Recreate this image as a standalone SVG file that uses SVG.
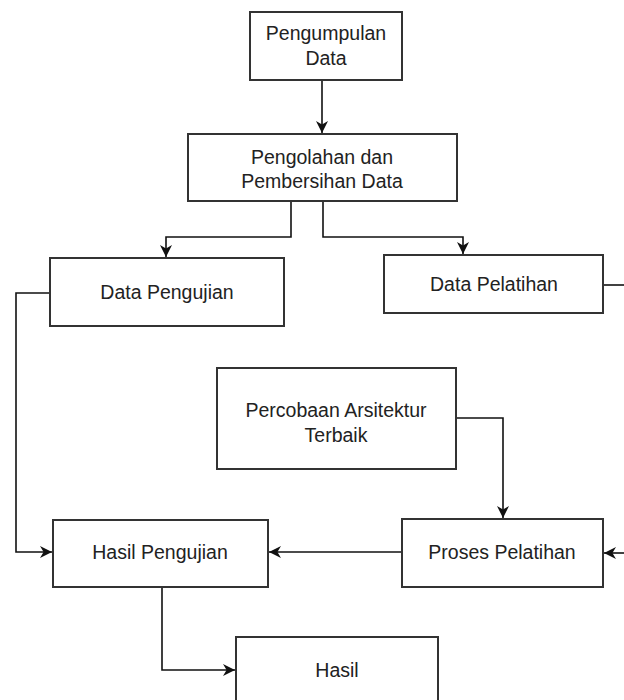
<svg xmlns="http://www.w3.org/2000/svg" width="624" height="700" viewBox="0 0 624 700">
<defs>
<marker id="arr" viewBox="0 0 10 10" refX="10" refY="5" markerWidth="12" markerHeight="12" markerUnits="userSpaceOnUse" orient="auto">
<path d="M0,0 L10,5 L0,10 L3,5 Z" fill="#111"/>
</marker>
</defs>
<style>
.box{fill:#fff;stroke:#333;stroke-width:2}
.t{font-family:"Liberation Sans",Arial,sans-serif;font-size:19.5px;fill:#222;text-anchor:middle}
.c{fill:none;stroke:#111;stroke-width:1.6}
</style>
<rect width="624" height="700" fill="#fff"/>
<g id="connectors">
<path class="c" d="M322,80 V133" marker-end="url(#arr)"/>
<path class="c" d="M291,201 V237 H166 V257" marker-end="url(#arr)"/>
<path class="c" d="M323,201 V237 H463 V254" marker-end="url(#arr)"/>
<path class="c" d="M603,285 H624"/>
<path class="c" d="M50,293 H16 V552 H52" marker-end="url(#arr)"/>
<path class="c" d="M456,418 H503 V518" marker-end="url(#arr)"/>
<path class="c" d="M402,552 H269" marker-end="url(#arr)"/>
<path class="c" d="M624,553 H604" marker-end="url(#arr)"/>
<path class="c" d="M162,587 V670 H235" marker-end="url(#arr)"/>
</g>
<g id="pengumpulan">
<rect class="box" x="250" y="12" width="152" height="68"/>
<text class="t" x="326" y="40">Pengumpulan</text>
<text class="t" x="326" y="65">Data</text>
</g>
<g id="pengolahan">
<rect class="box" x="188" y="134" width="269" height="67"/>
<text class="t" x="322" y="164">Pengolahan dan</text>
<text class="t" x="322" y="188">Pembersihan Data</text>
</g>
<g id="data-pengujian">
<rect class="box" x="50" y="258" width="234" height="68"/>
<text class="t" x="167" y="299">Data Pengujian</text>
</g>
<g id="data-pelatihan">
<rect class="box" x="384" y="255" width="219" height="58"/>
<text class="t" x="494" y="291">Data Pelatihan</text>
</g>
<g id="percobaan">
<rect class="box" x="217" y="368" width="239" height="101"/>
<text class="t" x="336" y="417">Percobaan Arsitektur</text>
<text class="t" x="336" y="442">Terbaik</text>
</g>
<g id="proses-pelatihan">
<rect class="box" x="402" y="519" width="201" height="68"/>
<text class="t" x="502" y="559">Proses Pelatihan</text>
</g>
<g id="hasil-pengujian">
<rect class="box" x="53" y="520" width="215" height="67"/>
<text class="t" x="160" y="559">Hasil Pengujian</text>
</g>
<g id="hasil">
<rect class="box" x="236" y="637" width="202" height="80"/>
<text class="t" x="337" y="677">Hasil</text>
</g>
</svg>
